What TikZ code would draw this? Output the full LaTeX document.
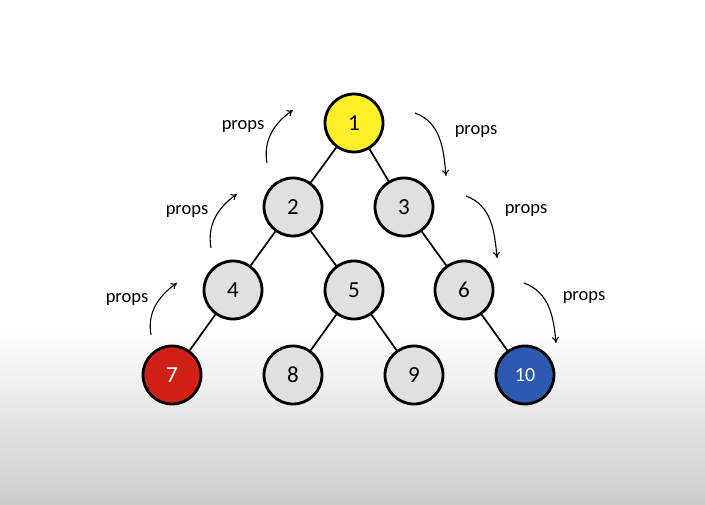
\documentclass[tikz,border=0pt]{standalone}
\usepackage{fontspec}
\setmainfont{Carlito}
\usetikzlibrary{arrows.meta}
\definecolor{amarillo}{RGB}{255,240,40}
\definecolor{rojo}{RGB}{208,32,22}
\definecolor{azul}{RGB}{44,90,176}
\definecolor{gris}{RGB}{224,224,224}
\definecolor{fondo}{RGB}{204,204,204}
\begin{document}
\begin{tikzpicture}[x=1pt,y=1pt,
   nodo/.style={circle,draw=black,line width=2.8pt,minimum size=58pt,inner sep=0pt,
     fill=gris,font=\fontsize{23}{27}\selectfont},
   rama/.style={line width=1.7pt},
   flecha/.style={line width=1.1pt,-{To[length=6pt,width=7pt]}},
   etiqueta/.style={font=\fontsize{18.5}{22}\selectfont}]
   \useasboundingbox (0,0) rectangle (705,504);
   \fill[white] (0,174) rectangle (705,504);
   \shade[top color=white,bottom color=fondo] (0,0) rectangle (705,175);

   % nodos
   \node[nodo,fill=amarillo] (n1) at (354,381) {1};
   \node[nodo] (n2) at (293,297) {2};
   \node[nodo] (n3) at (404,297) {3};
   \node[nodo] (n4) at (233,214) {4};
   \node[nodo] (n5) at (354,214) {5};
   \node[nodo] (n6) at (464,214) {6};
   \node[nodo,fill=rojo,text=white] (n7) at (172,129) {7};
   \node[nodo] (n8) at (293,129) {8};
   \node[nodo] (n9) at (414,129) {9};
   \node[nodo,fill=azul,text=white,font=\fontsize{20}{24}\selectfont] (n10) at (525,129) {10};

   \draw[rama] (n1) -- (n2) (n1) -- (n3) (n2) -- (n4) (n2) -- (n5) (n3) -- (n6);
   \draw[rama] (n4) -- (n7) (n5) -- (n8) (n5) -- (n9) (n6) -- (n10);

   % subida
   \coordinate (s1) at (267,341); \coordinate (t1) at (293,394);
   \coordinate (s2) at (211,256); \coordinate (t2) at (237,310);
   \coordinate (s3) at (151,169); \coordinate (t3) at (177,221);
   \draw[flecha] (s1) to[out=100,in=215] (t1);
   \draw[flecha] (s2) to[out=100,in=215] (t2);
   \draw[flecha] (s3) to[out=100,in=215] (t3);
   \node[etiqueta] (p1) at (243,378) {props};
   \node[etiqueta] (p2) at (187,293) {props};
   \node[etiqueta] (p3) at (127,205) {props};

   % bajada
   \coordinate (u1) at (415,391); \coordinate (v1) at (446,328);
   \coordinate (u2) at (466,308); \coordinate (v2) at (497,246);
   \coordinate (u3) at (524,221); \coordinate (v3) at (556,161);
   \draw[flecha] (u1) to[out=-20,in=95] (v1);
   \draw[flecha] (u2) to[out=-20,in=95] (v2);
   \draw[flecha] (u3) to[out=-20,in=95] (v3);
   \node[etiqueta] (q1) at (476,373) {props};
   \node[etiqueta] (q2) at (526,294) {props};
   \node[etiqueta] (q3) at (584,207) {props};
\end{tikzpicture}
\end{document}
